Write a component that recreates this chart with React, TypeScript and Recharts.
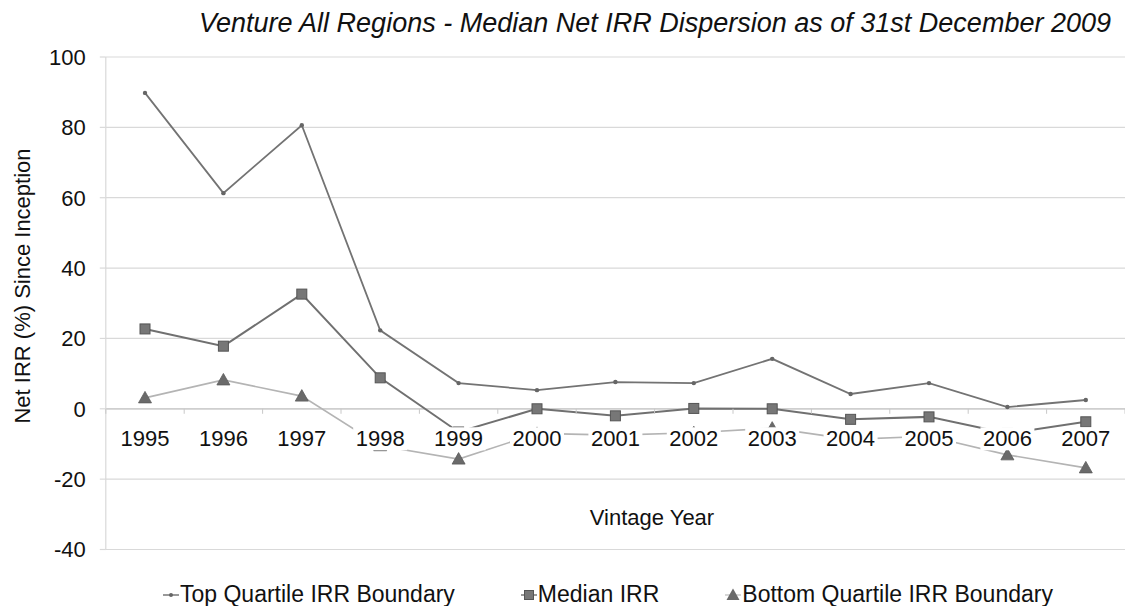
import React from "react";
import {
  LineChart,
  Line,
  XAxis,
  YAxis,
  CartesianGrid,
  ReferenceLine,
  Legend,
  Label,
} from "recharts";

const years = ["1995", "1996", "1997", "1998", "1999", "2000", "2001", "2002", "2003", "2004", "2005", "2006", "2007"];
const topQuartile = [89.8, 61.3, 80.6, 22.3, 7.3, 5.3, 7.6, 7.3, 14.2, 4.2, 7.3, 0.5, 2.5];
const medianIrr = [22.7, 17.8, 32.6, 8.8, -6.6, 0, -2, 0.1, 0, -3, -2.3, -7, -3.7];
const bottomQuartile = [3.1, 8.2, 3.6, -10.5, -14.3, -7, -7.5, -6.8, -5.5, -8.7, -7.8, -13.1, -16.8];
const yTicks = [-40, -20, 0, 20, 40, 60, 80, 100];

const data = years.map((y, i) => ({
  year: y,
  top: topQuartile[i],
  median: medianIrr[i],
  bottom: bottomQuartile[i],
}));

const W = 1125;
const H = 606;
const M_TOP = 57;
const M_BOTTOM = 56.5;
const X_H = 30;
const Y_W = 105.8;
const Y_MIN = -40;
const Y_MAX = 100;
const PLOT_H = H - M_TOP - M_BOTTOM;
const PLOT_W = W - Y_W;
const ZERO_Y = M_TOP + PLOT_H * (Y_MAX / (Y_MAX - Y_MIN));
const BAND = PLOT_W / years.length;
const FONT = "'Liberation Sans', Arial, sans-serif";

const XTick = (props: any) => {
  const { x, payload, index } = props;
  const isLast = index === years.length - 1;
  return (
    <g>
      <line x1={x - BAND / 2} x2={x - BAND / 2} y1={ZERO_Y} y2={ZERO_Y + 5} stroke="#c8c8c8" strokeWidth={1} />
      {isLast && (
        <line x1={x + BAND / 2} x2={x + BAND / 2} y1={ZERO_Y} y2={ZERO_Y + 5} stroke="#c8c8c8" strokeWidth={1} />
      )}
      <rect x={x - 27} y={ZERO_Y + 18.5} width={54} height={23} fill="#fff" />
      <text x={x} y={ZERO_Y + 37} textAnchor="middle" fontSize={22} fontFamily={FONT} fill="#111">
        {payload.value}
      </text>
    </g>
  );
};

const TopDot = (props: any) => {
  const { cx, cy, index } = props;
  if (cx == null || cy == null) return <g key={index} />;
  return <circle key={index} cx={cx} cy={cy} r={2.2} fill="#666" />;
};

const SquareDot = (props: any) => {
  const { cx, cy, index } = props;
  if (cx == null || cy == null) return <g key={index} />;
  return <rect key={index} x={cx - 5} y={cy - 5} width={10} height={10} fill="#777" stroke="#555" strokeWidth={1} />;
};

const TriDot = (props: any) => {
  const { cx, cy, index } = props;
  if (cx == null || cy == null) return <g key={index} />;
  return (
    <path
      key={index}
      d={`M${cx},${cy - 6.5} L${cx + 6.5},${cy + 5} L${cx - 6.5},${cy + 5} Z`}
      fill="#6a6a6a"
      stroke="#5a5a5a"
      strokeWidth={0.8}
    />
  );
};

const LegendMarker = ({ kind }: { kind: string }) => {
  if (kind === "top")
    return (
      <svg width={16} height={12} style={{ display: "block" }}>
        <line x1={0} x2={16} y1={6} y2={6} stroke="#777" strokeWidth={1.5} />
        <circle cx={8} cy={6} r={2} fill="#666" />
      </svg>
    );
  if (kind === "median")
    return (
      <svg width={16} height={12} style={{ display: "block" }}>
        <line x1={0} x2={16} y1={6} y2={6} stroke="#777" strokeWidth={1.5} />
        <rect x={3.5} y={1.5} width={9} height={9} fill="#777" stroke="#555" strokeWidth={1} />
      </svg>
    );
  return (
    <svg width={16} height={13} style={{ display: "block" }}>
      <line x1={0} x2={16} y1={7} y2={7} stroke="#bbb" strokeWidth={1.2} />
      <path d="M8,0.5 L14.5,12 L1.5,12 Z" fill="#6a6a6a" />
    </svg>
  );
};

const ORDER: Record<string, number> = { top: 0, median: 1, bottom: 2 };

const LegendContent = (props: any) => {
  const payload = [...(props.payload || [])].sort((a: any, b: any) => ORDER[a.dataKey] - ORDER[b.dataKey]);
  return (
    <div style={{ display: "flex", alignItems: "center", gap: 66, fontFamily: FONT, fontSize: 23, lineHeight: "23px", color: "#111", whiteSpace: "nowrap" }}>
      {payload.map((p: any) => (
        <div key={p.dataKey} style={{ display: "flex", alignItems: "center" }}>
          <LegendMarker kind={p.dataKey} />
          <span style={{ marginLeft: 1 }}>{p.value}</span>
        </div>
      ))}
    </div>
  );
};

const YLabel = () => (
  <text
    x={0}
    y={0}
    transform={`translate(30, 286) rotate(-90)`}
    textAnchor="middle"
    fontSize={22}
    fontFamily={FONT}
    fill="#111"
  >
    Net IRR (%) Since Inception
  </text>
);

const XLabel = () => (
  <text x={652} y={525} textAnchor="middle" fontSize={22} fontFamily={FONT} fill="#111">
    Vintage Year
  </text>
);

export default function App() {
  return (
    <div style={{ position: "absolute", left: 0, top: 0, width: W, height: H, background: "#fff", overflow: "hidden" }}>
      <div
        style={{
          position: "absolute",
          left: 0,
          top: 10,
          width: W,
          paddingLeft: 185,
          boxSizing: "border-box",
          textAlign: "center",
          fontFamily: FONT,
          fontStyle: "italic",
          fontSize: 27,
          lineHeight: "27px",
          color: "#111",
          whiteSpace: "nowrap",
          zIndex: 2,
        }}
      >
        Venture All Regions - Median Net IRR Dispersion as of 31st December 2009
      </div>
      <LineChart
        width={W}
        height={H}
        data={data}
        margin={{ top: M_TOP, right: 0, bottom: M_BOTTOM - X_H, left: 0 }}
      >
        <CartesianGrid vertical={false} stroke="#d9d9d9" strokeWidth={1.2} />
        <YAxis
          width={Y_W}
          domain={[Y_MIN, Y_MAX]}
          ticks={yTicks}
          interval={0}
          axisLine={{ stroke: "#d9d9d9", strokeWidth: 1.2 }}
          tickLine={{ stroke: "#d9d9d9", strokeWidth: 1.2 }}
          tickSize={6}
          tickMargin={14}
          tick={{ fontSize: 22, fontFamily: FONT, fill: "#111" }}
        >
          <Label content={<YLabel />} />
        </YAxis>
        <ReferenceLine y={0} stroke="#c8c8c8" strokeWidth={1.2} />
        <Line
          dataKey="bottom"
          name="Bottom Quartile IRR Boundary"
          stroke="#b4b4b4"
          strokeWidth={1.6}
          dot={<TriDot />}
          activeDot={false}
          isAnimationActive={false}
        />
        <Line
          dataKey="median"
          name="Median IRR"
          stroke="#707070"
          strokeWidth={2}
          dot={<SquareDot />}
          activeDot={false}
          isAnimationActive={false}
        />
        <Line
          dataKey="top"
          name="Top Quartile IRR Boundary"
          stroke="#737373"
          strokeWidth={1.8}
          dot={<TopDot />}
          activeDot={false}
          isAnimationActive={false}
        />
        <XAxis
          dataKey="year"
          height={X_H}
          axisLine={false}
          tickLine={false}
          interval={0}
          padding={{ left: BAND / 2, right: BAND / 2 }}
          tick={<XTick />}
          zIndex={2000}
        >
          <Label content={<XLabel />} />
        </XAxis>
        <Legend
          layout="horizontal"
          verticalAlign="middle"
          align="center"
          content={<LegendContent />}
          wrapperStyle={{ position: "absolute", left: 163, top: 583, width: "auto", bottom: "auto" }}
        />
      </LineChart>
    </div>
  );
}
